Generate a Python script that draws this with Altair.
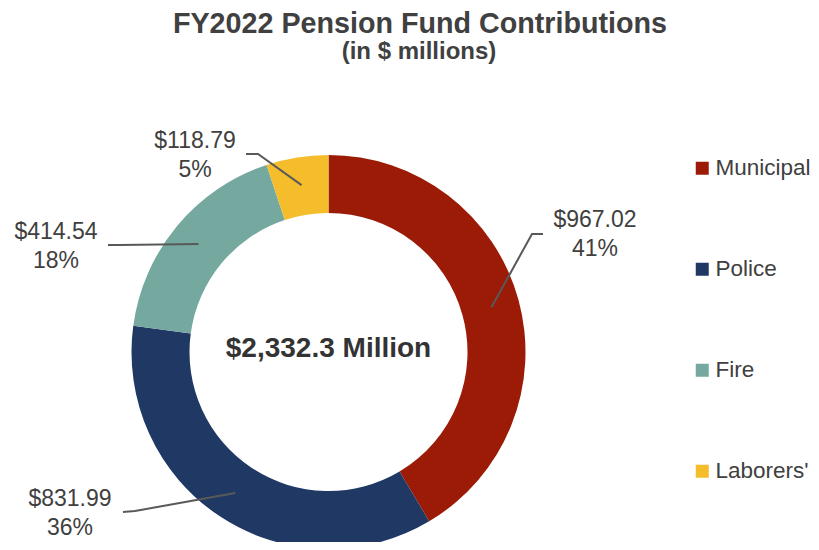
import altair as alt
import pandas as pd
import numpy as np

# ---- data ----
categories = ["Municipal", "Police", "Fire", "Laborers'"]
values = [967.02, 831.99, 414.54, 118.79]
colors = ["#9B1B07", "#203864", "#75A99F", "#F5BD2C"]
center_label = "$2,332.3 Million"
title_text = "FY2022 Pension Fund Contributions"
subtitle_text = "(in $ millions)"

# ---- layout (chart pixel coordinates, origin at plot top-left) ----
W, H = 803, 534
CX, CY = 320.5, 344
R_IN, R_OUT, R_LEAD = 139, 197, 169
FONT = "Liberation Sans"
TXT = "#404040"
# label anchor (text centre) and leader-line elbow/end for each slice
label_xy = [(587, 212), (62, 491), (48, 224), (187, 133)]
line_gap = 29
elbow_xy = [(524, 226), (127, 503), (112, 237), (250, 146)]
end_xy = [(535, 226), (115, 504), (100, 237), (238, 146)]

total = sum(values)
frac = np.array(values) / total
cum = np.cumsum(frac)
mid = (cum - frac / 2) * 2 * np.pi

df = pd.DataFrame({
    "category": categories,
    "value": values,
    "idx": list(range(len(categories))),
    "vtxt": [f"${v:,.2f}" for v in values],
    "ptxt": [f"{round(f * 100):.0f}%" for f in frac],
    "lx": [p[0] for p in label_xy],
    "ly1": [p[1] for p in label_xy],
    "ly2": [p[1] + line_gap for p in label_xy],
})

rows = []
for i, c in enumerate(categories):
    sx = CX + R_LEAD * np.sin(mid[i])
    sy = CY - R_LEAD * np.cos(mid[i])
    rows += [
        {"category": c, "pt": 0, "x": sx, "y": sy},
        {"category": c, "pt": 1, "x": elbow_xy[i][0], "y": elbow_xy[i][1]},
        {"category": c, "pt": 2, "x": end_xy[i][0], "y": end_xy[i][1]},
    ]
lines_df = pd.DataFrame(rows)

xs = alt.Scale(domain=[0, W], range=[0, W], nice=False, zero=False)
ys = alt.Scale(domain=[0, H], range=[0, H], nice=False, zero=False)

arc = alt.Chart(df).mark_arc(innerRadius=R_IN, outerRadius=R_OUT, strokeWidth=0).encode(
    theta=alt.Theta("value:Q", stack=True),
    order=alt.Order("idx:Q"),
    color=alt.Color(
        "category:N",
        scale=alt.Scale(domain=categories, range=colors),
        legend=alt.Legend(
            title=None, orient="none", legendX=683, legendY=149,
            symbolType="square", symbolSize=169, symbolStrokeWidth=0,
            labelFontSize=22.5, labelFont=FONT, labelColor=TXT,
            labelOffset=2, rowPadding=78, padding=0, labelLimit=200,
        ),
    ),
    x=alt.value(CX),
    y=alt.value(CY),
)

leaders = alt.Chart(lines_df).mark_line(color="#595959", strokeWidth=2).encode(
    x=alt.X("x:Q", scale=xs, axis=None),
    y=alt.Y("y:Q", scale=ys, axis=None),
    detail="category:N",
    order="pt:Q",
)

lab1 = alt.Chart(df).mark_text(fontSize=23, font=FONT, color=TXT, align="center", baseline="middle").encode(
    x=alt.X("lx:Q", scale=xs, axis=None),
    y=alt.Y("ly1:Q", scale=ys, axis=None),
    text="vtxt:N",
)
lab2 = alt.Chart(df).mark_text(fontSize=23, font=FONT, color=TXT, align="center", baseline="middle").encode(
    x=alt.X("lx:Q", scale=xs, axis=None),
    y=alt.Y("ly2:Q", scale=ys, axis=None),
    text="ptxt:N",
)

one = pd.DataFrame({"t": [0]})
title = alt.Chart(one).mark_text(
    text=title_text, fontSize=28.7, fontWeight="bold", font=FONT, color=TXT,
    align="center", baseline="alphabetic",
).encode(x=alt.value(412), y=alt.value(25))
subtitle = alt.Chart(one).mark_text(
    text=subtitle_text, fontSize=24, fontWeight="bold", font=FONT, color=TXT,
    align="center", baseline="alphabetic",
).encode(x=alt.value(411), y=alt.value(51))
center = alt.Chart(one).mark_text(
    text=center_label, fontSize=28, fontWeight="bold", font=FONT, color="#333333",
    align="center", baseline="alphabetic",
).encode(x=alt.value(CX), y=alt.value(349))

chart = alt.layer(arc, leaders, lab1, lab2, title, subtitle, center).properties(
    width=W, height=H, padding=0,
    autosize=alt.AutoSizeParams(type="none"),
).configure_view(stroke=None)

chart.save("out.html", embed_options={"renderer": "svg", "actions": False})
